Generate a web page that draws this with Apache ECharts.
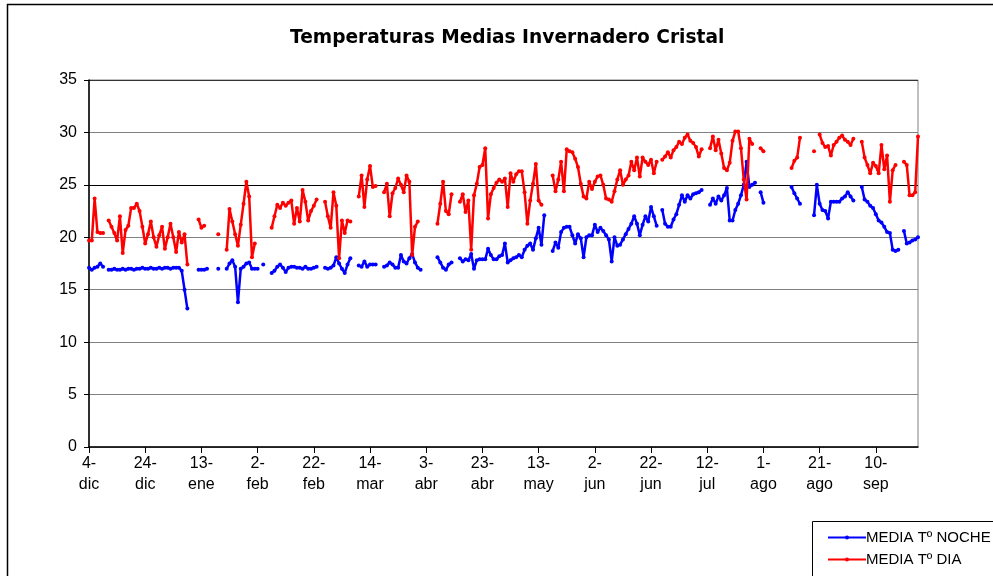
<!DOCTYPE html>
<html>
<head>
<meta charset="utf-8">
<script src="https://cdn.jsdelivr.net/npm/echarts@6/dist/echarts.min.js"></script>
<style>
  html, body { margin: 0; padding: 0; background: #fff; }
  #chart { width: 993px; height: 576px; }
</style>
</head>
<body>
<div id="chart"></div>
<script>
// series values, one per day starting 4-dic (null = no reading)
var mediaDia = [
  19.7, 19.7, 23.7, 20.5, 20.4, 20.4, null, 21.6, 21.0, 20.4,
  19.7, 22.0, 18.5, 20.7, 21.1, 22.8, 22.8, 23.2, 22.5, 21.0,
  19.4, 20.3, 21.5, 20.0, 19.1, 20.2, 21.0, 18.9, 20.0, 21.3,
  20.0, 18.6, 20.5, 19.5, 20.3, 17.4, null, null, null, 21.7,
  20.9, 21.1, null, null, null, null, 20.3, null, null, 18.8,
  22.7, 21.5, 20.3, 19.2, 21.2, 23.2, 25.3, 23.9, 18.1, 19.4,
  null, null, null, null, null, 20.9, 22.0, 23.1, 22.8, 23.3,
  23.0, 23.3, 23.5, 21.3, 22.8, 21.5, 24.5, 23.4, 21.6, 22.5,
  23.0, 23.6, null, null, 23.4, 22.0, 20.9, 24.3, 23.0, 18.0,
  21.6, 20.4, 21.6, 21.5, null, null, 23.9, 25.9, 22.9, 25.5,
  26.8, 24.8, 24.9, null, null, 24.3, 25.1, 22.0, 24.2, 24.7,
  25.6, 25.0, 24.3, 25.9, 25.3, 18.3, 21.0, 21.5, null, null,
  null, null, null, null, 21.3, 23.2, 25.3, 22.5, 22.2, 24.1,
  null, null, 23.4, 24.1, 22.4, 23.5, 18.8, 24.0, 25.1, 26.7,
  26.9, 28.5, 21.8, 24.1, 24.7, 25.2, 25.5, 25.3, 25.6, 22.9,
  26.1, 25.3, 26.0, 26.3, 26.3, 24.3, 21.3, 23.5, 25.1, 27.0,
  23.5, 23.1, null, null, null, 25.9, 24.4, 25.5, 27.2, 24.4,
  28.4, 28.2, 28.1, 27.5, 26.7, 25.1, 23.9, 23.7, 25.3, 24.6,
  25.3, 25.8, 25.9, 25.0, 23.7, 23.6, 23.4, 24.4, 25.5, 26.4,
  25.0, 25.5, 25.9, 27.2, 26.4, 27.6, 25.8, 27.6, 27.2, 26.9,
  27.4, 26.1, 27.2, null, 27.4, 27.7, 28.1, 27.6, 28.3, 28.6,
  29.1, 28.9, 29.5, 29.8, 29.2, 29.0, 28.6, 27.7, 28.4, null,
  null, 28.5, 29.6, 28.3, 29.3, 28.0, 26.6, 26.4, 27.1, 29.2,
  30.1, 30.1, 28.5, 25.5, 23.6, 29.4, 28.9, null, null, 28.5,
  28.2, null, null, null, null, null, null, null, null, null,
  26.6, 27.3, 27.6, 29.5, null, null, null, null, 28.2, null,
  29.8, 29.0, 28.6, 28.7, 27.8, 28.8, 29.1, 29.5, 29.7, 29.3,
  29.1, 28.8, 29.4, null, null, 29.1, 27.6, 26.9, 26.1, 27.1,
  26.8, 26.1, 28.8, 26.5, 27.8, 23.4, 26.4, 26.9, null, null,
  27.2, 26.9, 24.0, 24.0, 24.3, 29.6
];

var mediaNoche = [
  17.1, 16.9, 17.1, 17.2, 17.5, 17.2, null, 16.9, 16.9, 17.0,
  16.9, 16.9, 17.0, 16.9, 17.0, 17.0, 16.9, 17.0, 17.0, 17.1,
  17.0, 17.0, 17.1, 17.0, 17.0, 17.1, 17.0, 17.1, 17.1, 17.0,
  17.1, 17.1, 17.1, 16.8, 15.0, 13.2, null, null, null, 16.9,
  16.9, 16.9, 17.0, null, null, null, 17.0, null, null, 17.0,
  17.5, 17.8, 17.2, 13.8, 17.0, 17.2, 17.5, 17.6, 17.0, 17.0,
  17.0, null, 17.4, null, null, 16.6, 16.8, 17.2, 17.4, 17.1,
  16.7, 17.1, 17.2, 17.2, 17.1, 17.1, 17.0, 17.2, 17.0, 17.0,
  17.1, 17.2, null, null, 17.1, 17.0, 17.1, 17.3, 18.1, 17.5,
  17.0, 16.6, 17.4, 18.0, null, null, 17.3, 17.2, 17.7, 17.2,
  17.4, 17.4, 17.4, null, null, 17.2, 17.3, 17.6, 17.4, 17.1,
  17.1, 18.3, 17.7, 17.5, 18.0, 18.4, 17.6, 17.1, 16.9, null,
  null, null, null, null, 18.1, 17.6, 17.1, 16.9, 17.4, 17.6,
  null, null, 18.0, 17.7, 17.9, 17.8, 18.4, 17.0, 17.8, 17.9,
  17.9, 17.9, 18.9, 18.3, 17.9, 17.9, 18.2, 18.3, 19.4, 17.6,
  17.8, 18.0, 18.1, 18.3, 18.1, 18.8, 19.2, 19.4, 18.8, 19.9,
  20.9, 19.3, 22.1, null, null, 18.7, 19.5, 19.0, 20.5, 20.9,
  21.0, 21.0, 20.2, 19.4, 20.3, 19.9, 18.1, 20.0, 20.2, 20.2,
  21.2, 20.5, 20.9, 20.6, 20.2, 19.8, 17.7, 20.0, 19.2, 19.3,
  19.8, 20.3, 20.8, 21.3, 22.0, 21.3, 20.2, 21.2, 22.0, 21.5,
  22.9, 22.0, 21.1, null, 22.6, 21.3, 21.0, 21.0, 21.7, 22.2,
  23.1, 24.0, 23.4, 24.0, 23.7, 24.1, 24.2, 24.3, 24.5, null,
  null, 23.1, 23.7, 23.2, 23.9, 23.5, 24.0, 24.7, 21.6, 21.6,
  22.6, 23.2, 24.0, 25.0, 27.2, 24.8, 25.0, 25.2, null, 24.3,
  23.3, null, null, null, null, null, null, null, null, null,
  24.8, 24.2, 23.7, 23.2, null, null, null, null, 22.1, 25.0,
  23.2, 22.6, 22.5, 21.8, 23.4, 23.4, 23.4, 23.4, 23.7, 23.9,
  24.3, 23.9, 23.5, null, null, 24.8, 23.6, 23.4, 23.0, 22.8,
  22.2, 21.6, 21.4, 21.0, 20.5, 20.4, 18.8, 18.7, 18.8, null,
  20.6, 19.4, 19.5, 19.7, 19.8, 20.0
];

// category axis: one entry per day from 4-dic
var meses = ['ene', 'feb', 'mar', 'abr', 'may', 'jun', 'jul', 'ago', 'sep', 'oct', 'nov', 'dic'];
var fechas = [];
for (var i = 0; i < mediaDia.length; i++) {
    var f = new Date(2005, 11, 4 + i);
    fechas.push(f.getDate() + '-\n' + meses[f.getMonth()]);
}

var chart = echarts.init(document.getElementById('chart'));

var font = '"Liberation Sans", Arial, sans-serif';

var option = {
    animation: false,
    backgroundColor: '#fff',
    title: {
        text: 'Temperaturas Medias Invernadero Cristal',
        left: 285,
        top: 24,
        textStyle: {
            fontFamily: '"DejaVu Sans", sans-serif',
            fontSize: 18.6,
            fontWeight: 'bold',
            color: '#000'
        }
    },
    graphic: [
        {
            type: 'rect',
            shape: { x: 7.5, y: 4.5, width: 1000, height: 600 },
            style: { fill: 'none', stroke: '#000', lineWidth: 1.5 },
            silent: true,
            z: -10
        },
        {
            type: 'rect',
            shape: { x: 812.5, y: 521.5, width: 200, height: 70 },
            style: { fill: '#fff', stroke: '#000', lineWidth: 1 },
            silent: true,
            z: 5
        }
    ],
    legend: {
        left: 822,
        top: 525,
        orient: 'vertical',
        itemWidth: 38,
        itemHeight: 5,
        itemGap: 7,
        z: 10,
        data: ['MEDIA Tº NOCHE', 'MEDIA Tº DIA'],
        textStyle: {
            fontFamily: font,
            fontSize: 15,
            color: '#000',
            padding: [0, 0, 0, -5]
        }
    },
    grid: {
        left: 89,
        top: 80,
        right: 75,
        bottom: 129,
        show: true,
        borderColor: '#808080',
        borderWidth: 1
    },
    xAxis: {
        type: 'category',
        boundaryGap: false,
        data: fechas,
        axisLine: { lineStyle: { color: '#000', width: 1.5 } },
        axisTick: { interval: 19, length: 6, lineStyle: { color: '#000' } },
        axisLabel: {
            interval: 19,
            fontFamily: font,
            fontSize: 16,
            lineHeight: 21,
            color: '#000',
            margin: 6
        },
        splitLine: { show: false }
    },
    yAxis: {
        type: 'value',
        min: 0,
        max: 35,
        interval: 5,
        axisLine: { show: true, lineStyle: { color: '#000', width: 1.5 } },
        axisTick: { show: true, length: 5, lineStyle: { color: '#000' } },
        axisLabel: {
            fontFamily: font,
            fontSize: 16,
            color: '#000',
            margin: 12
        },
        splitLine: {
            lineStyle: {
                color: ['#808080', '#808080', '#808080', '#808080', '#808080', '#000', '#808080', '#333'],
                width: 1.2
            }
        }
    },
    series: [
        {
            name: 'MEDIA Tº NOCHE',
            type: 'line',
            data: mediaNoche,
            color: '#0000ff',
            symbol: 'circle',
            symbolSize: 4,
            showAllSymbol: true,
            connectNulls: false,
            lineStyle: { width: 2.5 },
            z: 3
        },
        {
            name: 'MEDIA Tº DIA',
            type: 'line',
            data: mediaDia,
            color: '#ff0000',
            symbol: 'circle',
            symbolSize: 4,
            showAllSymbol: true,
            connectNulls: false,
            lineStyle: { width: 2.5 },
            z: 4
        }
    ]
};

chart.setOption(option);
</script>
</body>
</html>
